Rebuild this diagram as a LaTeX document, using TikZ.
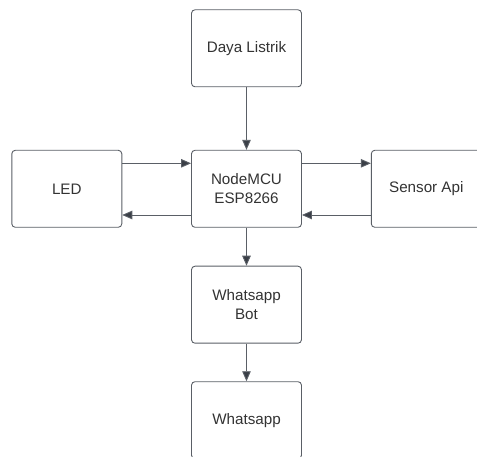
\documentclass[tikz,border=0pt]{standalone}
\usepackage{fontspec}
\setmainfont{Liberation Sans}
\usetikzlibrary{arrows.meta,calc}
\definecolor{linec}{HTML}{5A5F66}
\definecolor{txtc}{HTML}{333333}
\definecolor{tipc}{HTML}{3A3F47}
\tikzset{
  blk/.style={draw=linec, line width=0.9pt, rounded corners=3.5pt, fill=white,
    minimum width=110pt, minimum height=77pt, inner sep=0pt, align=center,
    text=txtc, font=\fontsize{15.2}{18.5}\selectfont},
  arr/.style={draw=linec, line width=0.9pt, -{Triangle[length=10pt,width=8.5pt,fill=tipc]}}
}
\begin{document}
\begin{tikzpicture}[x=1pt,y=-1pt]
\useasboundingbox (0,0) rectangle (477,457);
\clip (0,0) rectangle (477,457);
\node[blk] (daya) at (246.5,48.3) {Daya Listrik};
\node[blk] (led) at (66.8,188.8) {LED};
\node[blk] (nm) at (246.5,188.8) {NodeMCU\\ESP8266};
\node[blk] (sen) at (426.3,188.8) {Sensor Api};
\node[blk] (bot) at (246.5,304.7) {Whatsapp\\Bot};
\node[blk] (wa) at (246.5,420.2) {Whatsapp};
\draw[arr] (daya.south) -- (nm.north);
\draw[arr] ([yshift=25.5pt]led.east) -- ([yshift=25.5pt]nm.west);
\draw[arr] ([yshift=-26.2pt]nm.west) -- ([yshift=-26.2pt]led.east);
\draw[arr] ([yshift=25.5pt]nm.east) -- ([yshift=25.5pt]sen.west);
\draw[arr] ([yshift=-26.2pt]sen.west) -- ([yshift=-26.2pt]nm.east);
\draw[arr] (nm.south) -- (bot.north);
\draw[arr] (bot.south) -- (wa.north);
\end{tikzpicture}
\end{document}
